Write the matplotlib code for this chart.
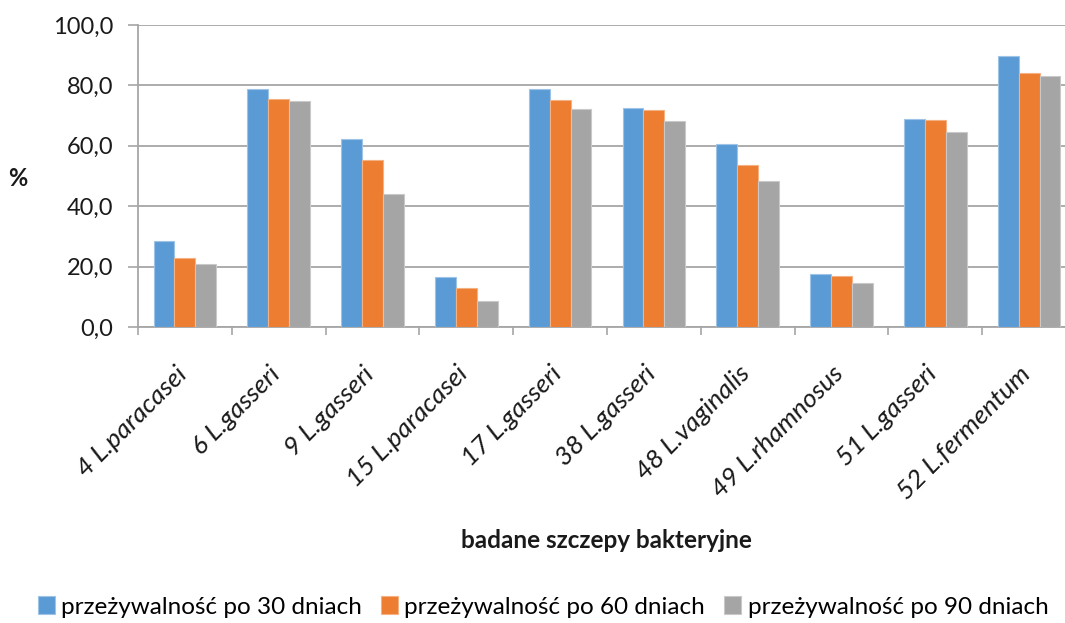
import matplotlib
matplotlib.use("Agg")
import matplotlib.pyplot as plt
import matplotlib.transforms as mtransforms
import numpy as np

categories = ["4 L.paracasei", "6 L.gasseri", "9 L.gasseri", "15 L.paracasei",
              "17 L.gasseri", "38 L.gasseri", "48 L.vaginalis", "49 L.rhamnosus",
              "51 L.gasseri", "52 L.fermentum"]
survival_30 = [28.5, 78.7, 62.1, 16.4, 78.7, 72.4, 60.5, 17.7, 69.0, 89.9]
survival_60 = [22.8, 75.6, 55.4, 12.9, 75.1, 71.9, 53.5, 16.8, 68.7, 84.2]
survival_90 = [20.8, 75.0, 43.9, 8.5, 72.1, 68.1, 48.4, 14.5, 64.7, 83.0]
series_labels = ["przeżywalność po 30 dniach", "przeżywalność po 60 dniach",
                 "przeżywalność po 90 dniach"]
y_ticks = [0, 20, 40, 60, 80, 100]

colors = ["#5B9BD5", "#ED7D31", "#A5A5A5"]
edge_colors = ["#9DC3E6", "#F4B183", "#C9C9C9"]
grid_color = "#A6A6A6"
text_color = "#1a1a1a"

plt.rcParams["font.family"] = ["Lato", "DejaVu Sans"]

fig = plt.figure(figsize=(10.65, 6.23), dpi=100)
ax = fig.add_axes([138 / 1065, 296 / 623, (1076 - 138) / 1065, 302 / 623])

x = np.arange(len(categories))
width = 0.223
for i, (vals, lab) in enumerate(zip([survival_30, survival_60, survival_90], series_labels)):
    ax.bar(x + (i - 1) * width, vals, width, color=colors[i], label=lab,
           edgecolor=edge_colors[i], linewidth=0.8, zorder=3)

ax.set_xlim(-0.5, len(categories) - 0.5)
ax.set_ylim(0, 100)
ax.set_yticks(y_ticks)
ax.set_yticklabels([f"{v:.1f}".replace(".", ",") for v in y_ticks], fontsize=17,
                   color=text_color)
ax.yaxis.grid(True, color=grid_color, linewidth=1.3, zorder=0)
ax.set_axisbelow(True)

ax.set_xticks(x)
ax.set_xticklabels(categories, rotation=45, ha="right", va="center",
                   rotation_mode="anchor", fontsize=19, style="italic", color=text_color)
ax.tick_params(axis="x", length=0, pad=31)
shift = mtransforms.ScaledTranslation(-0.02, 0, fig.dpi_scale_trans)
for lbl in ax.get_xticklabels():
    lbl.set_transform(lbl.get_transform() + shift)
# category boundary ticks
ax.set_xticks(np.arange(len(categories) + 1) - 0.5, minor=True)
ax.tick_params(axis="x", which="minor", length=6, color=grid_color, width=1.2)
ax.tick_params(axis="y", length=7, color=grid_color, width=1.2, pad=11)

for side in ["top", "right"]:
    ax.spines[side].set_visible(False)
for side in ["left", "bottom"]:
    ax.spines[side].set_color(grid_color)
    ax.spines[side].set_linewidth(1.3)

fig.text(606 / 1065, 1 - 541 / 623, "badane szczepy bakteryjne", fontsize=17.5,
         fontweight="bold", ha="center", va="center", color=text_color)
fig.text(18 / 1065, 1 - 178 / 623, "%", fontsize=17, fontweight="bold",
         ha="center", va="center", color=text_color)

fig.legend(loc="center", bbox_to_anchor=(543 / 1065, 1 - 607 / 623), ncol=3,
           frameon=False, fontsize=17.5, handlelength=0.7, handleheight=0.7,
           handletextpad=0.25, columnspacing=0.8)

fig.savefig("out.png", dpi=100)
